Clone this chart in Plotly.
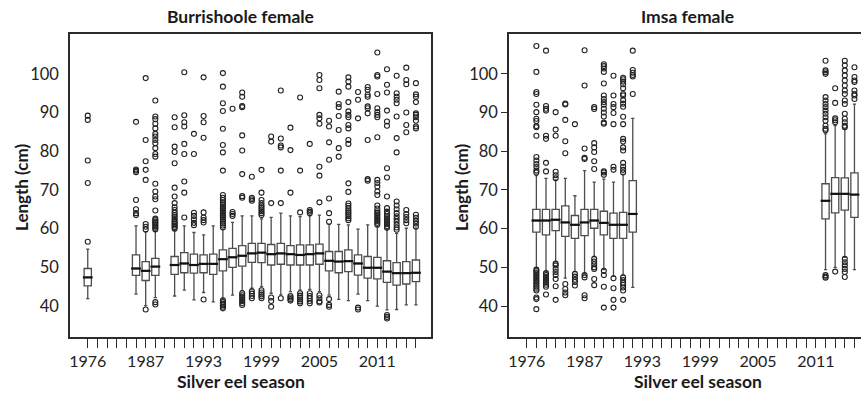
import plotly.graph_objects as go

# ---------------- categories / tick labels ----------------
categories = ["1976", "1982", "1983", "1984", "1985", "1986"] + [str(y) for y in range(1987, 2016)]
tick_labels = ["1976", "1987", "1993", "1999", "2005", "2011"]

# ---------------- Burrishoole female ----------------
bur_years = ["1976", "1986", "1987", "1988", "1990", "1991", "1992", "1993", "1994", "1995",
             "1996", "1997", "1998", "1999", "2000", "2001", "2002", "2003", "2004", "2005",
             "2006", "2007", "2008", "2009", "2010", "2011", "2012", "2013", "2014", "2015"]
bur_low = [41.9, 43.1, 40.1, 42.2, 42.6, 44.1, 41.6, 43.5, 41.1, 42.0,
           42.8, 44.0, 44.6, 45.0, 43.3, 42.9, 43.7, 44.1, 44.3, 43.7,
           42.8, 41.7, 41.4, 43.1, 41.4, 40.0, 39.0, 39.1, 40.3, 40.3]
bur_q1 = [45.2, 47.9, 46.6, 47.9, 48.2, 48.6, 48.5, 48.6, 48.2, 49.1,
          50.0, 50.3, 51.3, 51.2, 50.6, 50.8, 50.6, 50.6, 50.6, 50.8,
          49.1, 48.6, 48.9, 48.0, 47.2, 47.0, 46.1, 45.4, 45.7, 46.3]
bur_median = [47.4, 49.7, 49.1, 50.2, 50.6, 51.0, 50.6, 50.9, 50.9, 52.1,
              52.6, 53.0, 53.6, 53.8, 53.4, 53.6, 53.4, 53.2, 53.4, 53.6,
              51.7, 51.5, 51.6, 51.0, 49.9, 49.9, 48.9, 48.5, 48.5, 48.6]
bur_q3 = [49.7, 53.2, 51.5, 52.3, 52.8, 53.8, 53.4, 53.2, 53.4, 54.5,
          54.9, 55.6, 56.2, 56.2, 55.9, 56.2, 55.6, 55.8, 55.8, 56.0,
          54.1, 54.1, 54.5, 53.2, 52.8, 52.6, 51.7, 51.2, 51.5, 51.9]
bur_high = [54.7, 60.7, 59.2, 59.3, 59.5, 60.7, 59.0, 58.4, 60.7, 59.8,
            61.6, 63.3, 63.3, 62.5, 62.9, 64.0, 63.3, 63.1, 63.3, 63.5,
            61.1, 61.1, 61.0, 59.9, 61.0, 60.5, 59.8, 58.8, 60.1, 60.1]
bur_outliers = [
    [56.6, 71.8, 77.6, 88.1, 89.2],
    [63.5, 64.0, 65.0, 67.4, 74.6, 75.0, 75.3, 87.6],
    [39.1, 59.8, 60.5, 61.2, 72.6, 75.2, 77.4, 82.9, 98.9],
    [40.4, 41.0, 59.8, 60.2, 60.6, 61.0, 61.4, 61.8, 62.2, 62.6, 64.7, 67.6, 68.3, 69.6, 71.6,
     78.6, 79.3, 80.8, 82.1, 82.9, 83.8, 84.5, 85.9, 87.1, 88.3, 89.0, 93.1],
    [60.0, 60.4, 60.8, 61.2, 61.6, 62.0, 62.5, 63.0, 63.5, 64.1, 64.8, 65.5, 66.6, 68.3, 70.6,
     76.9, 79.8, 81.2, 86.2, 88.8],
    [62.9, 69.3, 72.2, 79.3, 81.9, 86.4, 87.5, 89.3, 100.4],
    [60.9, 61.5, 62.4, 63.3, 64.1, 79.3, 84.5],
    [41.7, 61.6, 62.2, 62.9, 64.2, 83.5, 87.5, 89.1, 99.1],
    [],
    [39.4, 39.8, 40.2, 40.6, 41.0, 41.5, 60.3, 60.8, 61.3, 61.8, 62.3, 62.8, 63.3, 63.8, 64.3,
     64.8, 65.3, 65.8, 66.3, 66.8, 67.4, 68.0, 68.7, 75.0, 79.7, 81.6, 85.8, 90.4, 92.4, 96.7, 100.2],
    [63.3, 63.8, 64.3, 91.0],
    [40.3, 40.8, 41.3, 41.8, 42.3, 42.8, 43.3, 68.0, 68.4, 74.1, 80.2, 84.1, 91.4, 91.7, 94.1, 95.2],
    [42.0, 42.6, 43.2, 43.8, 67.2, 67.6, 68.0, 73.4],
    [42.0, 42.5, 43.0, 43.5, 44.1, 63.5, 64.0, 64.5, 65.0, 65.5, 66.0, 66.6, 67.4, 69.3, 75.2],
    [39.8, 41.3, 42.2, 66.6, 82.5, 83.8],
    [42.0, 66.6, 75.0, 81.0, 81.5, 83.3, 95.7],
    [41.4, 41.8, 42.2, 42.6, 69.3, 80.3, 86.1],
    [40.7, 41.2, 41.7, 42.2, 42.7, 43.3, 64.2, 75.0, 93.9],
    [40.7, 41.3, 42.0, 42.6, 43.3, 64.0, 64.4, 64.8, 81.9],
    [40.9, 41.2, 42.0, 42.8, 66.8, 73.7, 76.0, 87.1, 88.5, 89.4, 96.3, 98.4, 99.7],
    [39.8, 40.3, 41.8, 61.8, 64.0, 67.8, 77.8, 82.3, 86.4, 87.9],
    [78.6, 80.8, 85.5, 89.1, 91.4, 92.2, 95.4],
    [62.2, 62.7, 63.2, 63.7, 64.2, 64.7, 65.3, 65.9, 66.5, 69.5, 71.7, 81.9, 82.9, 85.9, 86.8,
     88.8, 89.4, 90.3, 92.7, 96.7, 98.0, 99.1],
    [39.1, 39.6, 88.5, 93.3, 95.3],
    [72.4, 72.8, 82.9, 89.8, 91.1, 91.6, 94.1, 94.6, 95.9, 96.6],
    [61.0, 61.5, 62.0, 62.5, 63.0, 63.5, 64.0, 64.5, 65.2, 66.0, 68.7, 69.6, 70.9, 71.8, 72.6,
     83.6, 88.8, 89.4, 90.1, 91.1, 94.8, 99.3, 99.7, 105.5],
    [36.8, 37.2, 37.7, 60.2, 60.7, 61.2, 61.7, 62.2, 62.7, 63.2, 63.8, 64.4, 65.3, 68.3, 73.2,
     75.6, 86.6, 87.7, 90.5, 95.2, 97.2, 101.2],
    [59.7, 60.3, 61.0, 61.8, 62.5, 63.2, 64.0, 65.0, 66.0, 67.0, 79.7, 83.4, 89.0, 92.4, 93.3,
     94.1, 95.0, 99.5],
    [61.4, 62.2, 63.0, 63.8, 64.8, 84.9, 86.8, 90.0, 97.3, 98.4, 101.6],
    [60.5, 61.3, 62.0, 62.8, 63.6, 85.9, 86.4, 87.9, 88.8, 89.4, 89.8, 92.7, 94.1, 94.7, 97.6],
]

# ---------------- Imsa female ----------------
imsa_years = ["1982", "1983", "1984", "1985", "1986", "1987", "1988", "1989", "1990", "1991",
              "1992", "2012", "2013", "2014", "2015"]
imsa_low = [49.8, 48.9, 51.5, 47.2, 48.9, 48.3, 52.8, 49.4, 47.7, 48.0, 44.8, 49.4, 50.0, 52.6, 49.4]
imsa_q1 = [59.1, 58.4, 59.5, 58.0, 57.5, 58.2, 60.1, 58.4, 57.5, 57.5, 59.1, 62.5, 64.1, 64.8, 62.9]
imsa_median = [62.1, 62.1, 62.3, 61.6, 61.0, 61.6, 62.1, 61.5, 61.0, 61.0, 63.8, 67.2, 69.0, 69.0, 68.8]
imsa_q3 = [65.0, 65.0, 65.0, 65.9, 63.4, 65.0, 65.0, 64.5, 64.0, 64.2, 72.4, 71.6, 73.2, 73.1, 74.4]
imsa_high = [73.7, 73.0, 72.6, 73.0, 68.5, 75.0, 72.0, 72.8, 72.0, 74.0, 88.5, 84.5, 86.6, 85.8, 92.2]
imsa_outliers = [
    [39.2, 41.8, 42.2, 44.0, 44.5, 45.0, 45.5, 46.0, 46.5, 47.0, 47.5, 48.0, 48.5, 49.0, 49.4,
     74.5, 75.0, 75.9, 76.7, 77.6, 78.5, 84.0, 86.2, 86.5, 87.8, 88.4, 90.1, 92.0, 94.8, 95.3,
     100.5, 107.2],
    [43.0, 45.0, 45.5, 46.0, 46.5, 47.0, 47.5, 48.0, 48.5, 74.8, 77.0, 83.2, 84.0, 90.5, 91.0,
     91.7, 106.0],
    [41.6, 45.1, 47.0, 48.0, 48.8, 49.6, 50.5, 51.0, 73.0, 73.8, 74.7, 84.0, 85.6, 90.1],
    [42.8, 43.5, 44.4, 45.7, 79.5, 82.6, 88.1, 92.1, 92.3],
    [45.3, 46.2, 46.8, 47.6, 48.3, 87.0],
    [42.0, 42.8, 47.4, 48.0, 78.0, 78.3, 80.7, 97.0, 106.1],
    [45.4, 47.0, 49.6, 50.0, 50.8, 51.5, 52.2, 75.4, 77.4, 79.8, 81.0, 82.1, 90.9, 91.4],
    [39.6, 45.0, 48.0, 49.1, 73.9, 74.5, 74.8, 87.1, 87.4, 89.0, 90.0, 91.0, 92.0, 92.7, 93.5,
     94.4, 97.5, 100.5, 101.4, 102.0, 102.5],
    [39.6, 41.6, 44.6, 47.2, 75.2, 76.0, 87.0, 89.9, 91.4, 92.2, 94.4, 99.5],
    [41.6, 44.0, 44.8, 45.5, 46.0, 46.7, 47.4, 74.5, 75.2, 76.0, 77.0, 80.2, 81.0, 82.5, 83.2,
     87.0, 88.9, 91.5, 92.3, 93.2, 94.4, 94.8, 96.3, 97.3, 98.0, 98.6, 99.0],
    [94.8, 99.3, 99.7, 100.3, 101.0, 106.0],
    [47.3, 47.6, 48.0, 85.4, 85.8, 86.6, 87.9, 88.8, 89.7, 90.5, 91.4, 92.2, 93.1, 94.0, 100.0,
     100.4, 100.9, 103.4],
    [48.9, 87.5, 88.0, 88.5, 92.5, 96.3],
    [47.5, 48.8, 49.6, 50.5, 51.3, 52.2, 86.2, 86.6, 87.5, 88.4, 89.7, 92.2, 93.1, 94.8, 95.7,
     97.0, 98.3, 99.6, 100.9, 102.2, 103.4],
    [93.5, 94.4, 94.8, 95.7, 97.9, 98.3, 99.2, 101.7],
]

# ---------------- styling ----------------
W, H = 861, 394
FONT = "Lato"
BOX_LINE = "#4d4d4d"
AX = "#2b2b2b"


def px_x(p):
    return p / W


def px_y(p):
    return 1 - p / H


fig = go.Figure()


def add_panel(years, lo, q1, med, q3, hi, outl, xa, ya):
    fig.add_trace(go.Box(
        x=years, lowerfence=lo, q1=q1, median=med, q3=q3, upperfence=hi,
        boxpoints=False, width=0.75, whiskerwidth=0.45,
        fillcolor="white", line=dict(color=BOX_LINE, width=1.3),
        xaxis=xa, yaxis=ya, showlegend=False, hoverinfo="skip"))
    ox, oy = [], []
    for yr, vals in zip(years, outl):
        for v in vals:
            ox.append(yr)
            oy.append(v)
    fig.add_trace(go.Scatter(
        x=ox, y=oy, mode="markers", xaxis=xa, yaxis=ya, showlegend=False,
        marker=dict(symbol="circle-open", size=5, color="#222222", line=dict(width=1.1)),
        hoverinfo="skip"))
    fig.add_trace(go.Scatter(
        x=years, y=med, mode="markers", xaxis=xa, yaxis=ya, showlegend=False,
        marker=dict(symbol="line-ew", size=7, line=dict(width=2.2, color="#111111")),
        hoverinfo="skip"))


add_panel(bur_years, bur_low, bur_q1, bur_median, bur_q3, bur_high, bur_outliers, "x", "y")
add_panel(imsa_years, imsa_low, imsa_q1, imsa_median, imsa_q3, imsa_high, imsa_outliers, "x2", "y2")

tick_text = [c if c in tick_labels else "" for c in categories]

xcommon = dict(type="category", categoryorder="array", categoryarray=categories,
               tickmode="array", tickvals=categories, ticktext=tick_text,
               ticks="outside", ticklen=9, tickwidth=1.2, tickcolor=AX,
               showline=True, linecolor=AX, linewidth=1.5, mirror=True,
               showgrid=False, zeroline=False, automargin=False,
               tickfont=dict(family=FONT, size=16, color="#222222"))
ycommon = dict(range=[32.0, 110.3], tickvals=[40, 50, 60, 70, 80, 90, 100],
               showline=True, linecolor=AX, linewidth=1.5, mirror=True,
               showgrid=False, zeroline=False, automargin=False,
               tickfont=dict(family=FONT, size=16.5, color="#222222"))

fig.update_layout(
    width=W, height=H, margin=dict(l=0, r=0, t=0, b=0),
    paper_bgcolor="white", plot_bgcolor="white",
    xaxis=dict(xcommon, domain=[px_x(70), px_x(431)], range=[-1.84, 35.56], anchor="y"),
    yaxis=dict(ycommon, domain=[px_y(337), px_y(34)], anchor="x", ticks="", ticklen=0,
               ticklabelstandoff=6),
    xaxis2=dict(xcommon, domain=[px_x(509), 1.0], range=[-1.84, 34.68], anchor="y2"),
    yaxis2=dict(ycommon, domain=[px_y(337), px_y(34)], anchor="x2",
                ticks="outside", ticklen=6, tickwidth=1.2, tickcolor=AX),
)

ann = []
for text, x, y, rot, size in [
    ("Burrishoole female", 240, 17, 0, 17.5),
    ("Imsa female", 687, 17, 0, 17.5),
    ("Silver eel season", 241, 381, 0, 17.5),
    ("Silver eel season", 698, 381, 0, 17.5),
    ("Length (cm)", 21, 188, -90, 17),
    ("Length (cm)", 461, 188, -90, 17),
]:
    ann.append(dict(text="<b>%s</b>" % text, x=px_x(x), y=px_y(y), xref="paper", yref="paper",
                    showarrow=False, xanchor="center", yanchor="middle", textangle=rot,
                    font=dict(family=FONT, size=size, color="#1a1a1a")))
fig.update_layout(annotations=ann)

fig.write_html("out.html")
